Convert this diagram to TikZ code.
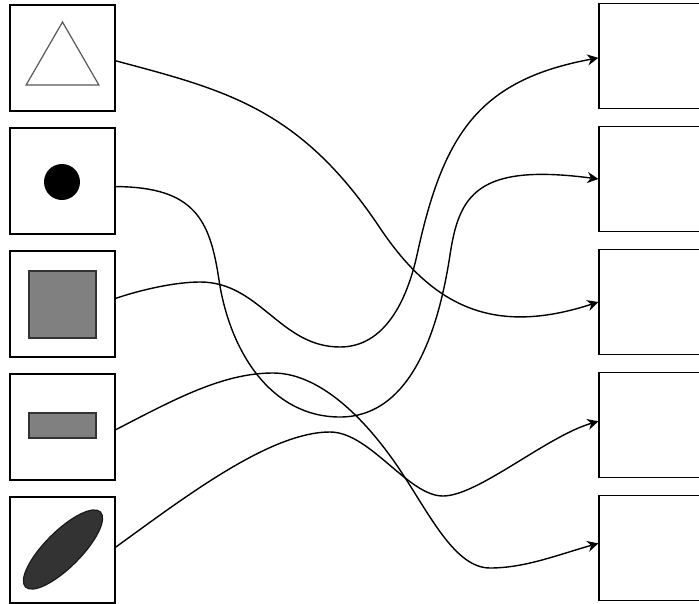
\documentclass[tikz,border=0pt]{standalone}
\usepackage{tikz}
\usetikzlibrary{arrows.meta, shapes.geometric}

\begin{document}
\begin{tikzpicture}[
  x=1pt, y=-1pt,
  slot/.style={draw, line width=1.2pt, minimum width=105pt,
               minimum height=106pt, inner sep=0pt},
  target/.style={draw, line width=1.2pt, minimum width=105pt,
                 minimum height=105pt, inner sep=0pt},
  glyph/.style={inner sep=0pt, outer sep=0pt, line width=1.2pt},
  link/.style={-{Stealth[length=11pt, width=11pt, inset=3.5pt]}, line width=1.4pt},
]
\clip (0,0) rectangle (699,603);
\fill[white] (0,0) rectangle (699,603);

\node[slot] (src1) at (62.5, 58)  {};
\node[slot] (src2) at (62.5, 181) {};
\node[slot] (src3) at (62.5, 304) {};
\node[slot] (src4) at (62.5, 427) {};
\node[slot] (src5) at (62.5, 550) {};

\node[target] (tgt1) at (651.5, 56)  {};
\node[target] (tgt2) at (651.5, 179) {};
\node[target] (tgt3) at (651.5, 302) {};
\node[target] (tgt4) at (651.5, 425) {};
\node[target] (tgt5) at (651.5, 548) {};

\node[glyph, regular polygon, regular polygon sides=3, draw=black!65,
      minimum size=84pt] (tri) at (62.5, 64) {};
\node[glyph, circle, fill=black, minimum size=36pt] (dot) at (62, 182) {};
\node[glyph, draw=black!80, fill=black!50, minimum width=67pt,
      minimum height=67pt] (sq) at (62.5, 304.5) {};
\node[glyph, draw=black!80, fill=black!50, minimum width=67pt,
      minimum height=25pt] (bar) at (62.5, 425.5) {};
\node[glyph, ellipse, draw=black!90, fill=black!80, minimum width=106pt,
      minimum height=36pt, rotate=45] (blob) at (63, 549.5) {};

\draw[link] (src1.-3) .. controls (225,90) and (300,108) .. (380,228)
            .. controls (435,310) and (497,335) .. (tgt3.west);
\draw[link] (src2.-6) .. controls (195,187) and (210,220) .. (219,280)
            .. controls (229.5,350) and (270,417) .. (340,417)
            .. controls (415,417) and (440,320) .. (450,255)
            .. controls (459,195) and (477,163) .. (tgt2.west);
\draw[link] (src3.6) .. controls (140,290) and (175,282) .. (200,282)
            .. controls (260,282) and (280,347) .. (340,347)
            .. controls (385,347) and (407,300) .. (417,255)
            .. controls (443,135) and (478,80) .. (tgt1.182);
\draw[link] (src4.-3) .. controls (175,399) and (223,373) .. (273,373)
            .. controls (323,373) and (370,425) .. (400,470)
            .. controls (430,515) and (455,568) .. (490,568)
            .. controls (525,568) and (557,555) .. (tgt5.175);
\draw[link] (src5.3) .. controls (185,497) and (270,432) .. (330,432)
            .. controls (370,432) and (408,496) .. (443,496)
            .. controls (478,496) and (547,436) .. (tgt4.176);

\end{tikzpicture}
\end{document}
